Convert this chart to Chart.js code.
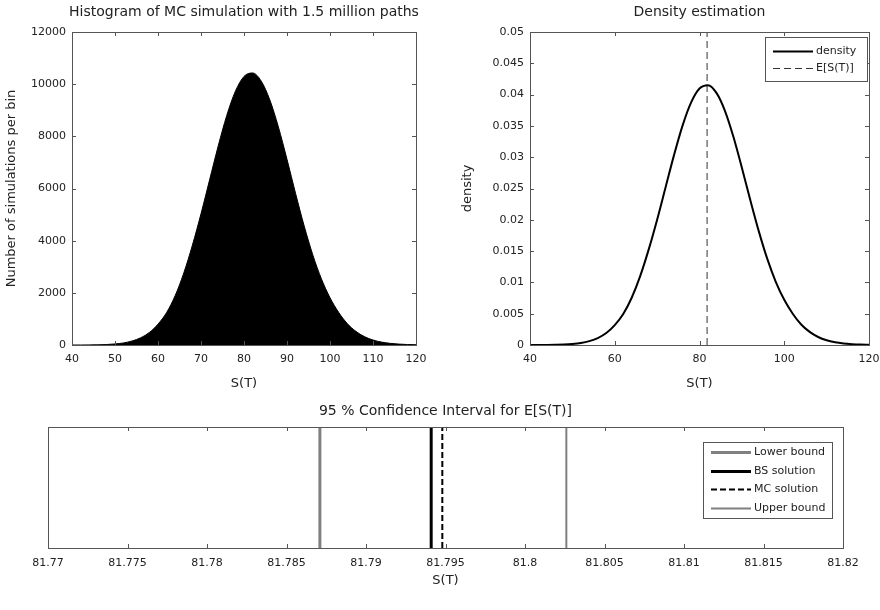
<!DOCTYPE html>
<html>
<head>
<meta charset="utf-8">
<script src="https://cdn.jsdelivr.net/npm/chart.js@4.4.1/dist/chart.umd.min.js"></script>
<style>
  body { margin: 0; background: #fff; width: 880px; height: 610px; position: relative; overflow: hidden; }
  canvas { position: absolute; }
</style>
</head>
<body>
<canvas id="histChart" width="440" height="400" style="left:0;top:0"></canvas>
<canvas id="densityChart" width="440" height="400" style="left:440px;top:0"></canvas>
<canvas id="ciChart" width="880" height="210" style="left:0;top:400px"></canvas>
<script>
// S(T) grid the histogram and the density are read at
const sValues = [40, 42, 44, 46, 48, 50, 52, 54, 56, 58, 60, 62, 64, 66, 68, 70, 72, 74, 76, 78, 80,
                 82, 84, 86, 88, 90, 92, 94, 96, 98, 100, 102, 104, 106, 108, 110, 112, 114, 116, 118, 120];
// simulations per bin
const histCounts = [0, 0, 3, 8, 18, 40, 80, 156, 279, 482, 799, 1244, 1897, 2764, 3827, 5030, 6332, 7630, 8806, 9731, 10296,
                    10430, 10118, 9399, 8359, 7118, 5806, 4560, 3455, 2538, 1814, 1256, 824, 525, 322, 191, 111, 63, 35, 18, 10];
// estimated density
const densityValues = [0, 0, 0.00001, 0.00003, 0.00007, 0.00016, 0.00032, 0.00062, 0.00111, 0.00192, 0.00318, 0.00495,
                       0.00755, 0.011, 0.01523, 0.02002, 0.0252, 0.03037, 0.03505, 0.03873, 0.04098, 0.04151, 0.04027,
                       0.03741, 0.03327, 0.02833, 0.02311, 0.01815, 0.01375, 0.0101, 0.00722, 0.005, 0.00328, 0.00209,
                       0.00128, 0.00076, 0.00044, 0.00025, 0.00014, 0.00007, 0.00004];
const meanST = 81.79;

const histTicksX = [40, 50, 60, 70, 80, 90, 100, 110, 120];
const histTicksY = [0, 2000, 4000, 6000, 8000, 10000, 12000];
const densTicksX = [40, 60, 80, 100, 120];
const densTicksY = [0, 0.005, 0.01, 0.015, 0.02, 0.025, 0.03, 0.035, 0.04, 0.045, 0.05];

// confidence interval
const lowerBound = 81.7871;
const bsSolution = 81.7941;
const mcSolution = 81.7948;
const upperBound = 81.8026;
const ciTicksX = [81.77, 81.775, 81.78, 81.785, 81.79, 81.795, 81.8, 81.805, 81.81, 81.815, 81.82];

const axisColor = '#555';
const fontFamily = '"DejaVu Sans", Verdana, sans-serif';
Chart.defaults.font.family = fontFamily;
Chart.defaults.font.size = 11;
Chart.defaults.color = '#222';

// box around the axes with inward tick marks
const matlabBox = {
  id: 'matlabBox',
  afterDatasetsDraw(chart) {
    const {ctx, chartArea: a} = chart;
    const len = 4;
    ctx.save();
    ctx.strokeStyle = axisColor;
    ctx.lineWidth = 1;
    ctx.setLineDash([]);
    ctx.strokeRect(Math.round(a.left) + 0.5, Math.round(a.top) + 0.5,
                   Math.round(a.right - a.left), Math.round(a.bottom - a.top));
    ctx.beginPath();
    chart.scales.x.ticks.forEach(t => {
      const px = Math.round(chart.scales.x.getPixelForValue(t.value)) + 0.5;
      ctx.moveTo(px, a.bottom); ctx.lineTo(px, a.bottom - len);
      ctx.moveTo(px, a.top); ctx.lineTo(px, a.top + len);
    });
    chart.scales.y.ticks.forEach(t => {
      const py = Math.round(chart.scales.y.getPixelForValue(t.value)) + 0.5;
      ctx.moveTo(a.left, py); ctx.lineTo(a.left + len, py);
      ctx.moveTo(a.right, py); ctx.lineTo(a.right - len, py);
    });
    ctx.stroke();
    ctx.restore();
  }
};

// title centred over the axes rather than the canvas
const axesTitle = {
  id: 'axesTitle',
  afterDraw(chart, args, opts) {
    const {ctx, chartArea: a} = chart;
    ctx.save();
    ctx.fillStyle = '#222';
    ctx.font = '14px ' + fontFamily;
    ctx.textAlign = 'center';
    ctx.textBaseline = 'middle';
    ctx.fillText(opts.text, (a.left + a.right) / 2, opts.y);
    ctx.restore();
  }
};

// framed legend placed inside the axes
const boxLegend = {
  id: 'boxLegend',
  afterDatasetsDraw(chart, args, opts) {
    if (!opts.display) return;
    const ctx = chart.ctx;
    ctx.save();
    ctx.fillStyle = '#fff';
    ctx.fillRect(opts.x, opts.y, opts.w, opts.h);
    ctx.strokeStyle = axisColor;
    ctx.lineWidth = 1;
    ctx.strokeRect(opts.x + 0.5, opts.y + 0.5, opts.w, opts.h);
    chart.data.datasets.forEach((ds, i) => {
      const yy = Math.round(opts.y + opts.rowTop + i * opts.rowH) + 0.5;
      ctx.beginPath();
      ctx.setLineDash(ds.borderDash || []);
      ctx.strokeStyle = ds.borderColor;
      ctx.lineWidth = ds.borderWidth;
      ctx.moveTo(opts.x + 8, yy);
      ctx.lineTo(opts.x + 8 + opts.lineLen, yy);
      ctx.stroke();
      ctx.setLineDash([]);
      ctx.fillStyle = '#222';
      ctx.font = '11px ' + fontFamily;
      ctx.textBaseline = 'middle';
      ctx.fillText(ds.label, opts.x + 11 + opts.lineLen, yy);
    });
    ctx.restore();
  }
};

function fixedTicks(values) {
  return scale => { scale.ticks = values.map(v => ({value: v})); };
}

function xScale(min, max, ticks, height, labelPad, titlePad) {
  return {
    type: 'linear', min: min, max: max,
    afterBuildTicks: fixedTicks(ticks),
    // fixed height, and no extra room reserved for the outer tick labels
    afterFit: s => { s.height = height; s.paddingLeft = 0; s.paddingRight = 0; },
    grid: {display: false, drawTicks: false},
    border: {display: false},
    ticks: {padding: labelPad, maxRotation: 0, autoSkip: false, callback: v => String(v)},
    title: {display: true, text: 'S(T)', font: {size: 13}, padding: {top: 0, bottom: titlePad}}
  };
}

function vLine(label, value, top, color, width, dash) {
  return {
    label: label,
    data: [{x: value, y: 0}, {x: value, y: top}],
    borderColor: color, borderWidth: width, borderDash: dash,
    pointRadius: 0, fill: false
  };
}

// histogram of the simulated terminal prices
new Chart(document.getElementById('histChart'), {
  type: 'line',
  data: {
    datasets: [{
      label: 'MC',
      data: sValues.map((s, i) => ({x: s, y: histCounts[i]})),
      borderColor: '#000', backgroundColor: '#000', borderWidth: 1,
      fill: 'origin', pointRadius: 0, cubicInterpolationMode: 'monotone'
    }]
  },
  options: {
    responsive: false, animation: false, devicePixelRatio: 1,
    layout: {padding: {left: 0, right: 24, top: 32, bottom: 0}},
    plugins: {
      legend: {display: false}, tooltip: {enabled: false},
      axesTitle: {text: 'Histogram of MC simulation with 1.5 million paths', y: 12},
      boxLegend: {display: false}
    },
    scales: {
      x: xScale(40, 120, histTicksX, 55, 8, 9),
      y: {
        min: 0, max: 12000,
        afterBuildTicks: fixedTicks(histTicksY),
        afterFit: s => { s.width = 72; },
        grid: {display: false, drawTicks: false},
        border: {display: false},
        ticks: {padding: 6, callback: v => String(v)},
        title: {display: true, text: 'Number of simulations per bin', font: {size: 13}, padding: {top: 4, bottom: 0}}
      }
    }
  },
  plugins: [matlabBox, boxLegend, axesTitle]
});

// density estimate with the expected value
new Chart(document.getElementById('densityChart'), {
  type: 'line',
  data: {
    datasets: [
      {
        label: 'density',
        data: sValues.map((s, i) => ({x: s, y: densityValues[i]})),
        borderColor: '#000', borderWidth: 2, pointRadius: 0, fill: false,
        cubicInterpolationMode: 'monotone'
      },
      vLine('E[S(T)]', meanST, 0.05, '#333', 1, [7, 4])
    ]
  },
  options: {
    responsive: false, animation: false, devicePixelRatio: 1,
    layout: {padding: {left: 0, right: 11, top: 32, bottom: 0}},
    plugins: {
      legend: {display: false}, tooltip: {enabled: false},
      axesTitle: {text: 'Density estimation', y: 12},
      boxLegend: {display: true, x: 325, y: 37, w: 102, h: 44, rowTop: 14, rowH: 17, lineLen: 40}
    },
    scales: {
      x: xScale(40, 120, densTicksX, 55, 8, 9),
      y: {
        min: 0, max: 0.05,
        afterBuildTicks: fixedTicks(densTicksY),
        afterFit: s => { s.width = 90; },
        grid: {display: false, drawTicks: false},
        border: {display: false},
        ticks: {padding: 6, callback: v => String(v)},
        title: {display: true, text: 'density', font: {size: 13}, padding: {top: 20, bottom: 0}}
      }
    }
  },
  plugins: [matlabBox, boxLegend, axesTitle]
});

// confidence interval against the Black-Scholes value
new Chart(document.getElementById('ciChart'), {
  type: 'line',
  data: {
    datasets: [
      vLine('Lower bound', lowerBound, 1, '#808080', 3, []),
      vLine('BS solution', bsSolution, 1, '#000', 3, []),
      vLine('MC solution', mcSolution, 1, '#000', 2, [6, 3]),
      vLine('Upper bound', upperBound, 1, '#808080', 2, [])
    ]
  },
  options: {
    responsive: false, animation: false, devicePixelRatio: 1,
    layout: {padding: {left: 0, right: 37, top: 27, bottom: 0}},
    plugins: {
      legend: {display: false}, tooltip: {enabled: false},
      axesTitle: {text: '95 % Confidence Interval for E[S(T)]', y: 11},
      boxLegend: {display: true, x: 703, y: 42, w: 129, h: 76, rowTop: 10, rowH: 18.5, lineLen: 40}
    },
    scales: {
      x: xScale(81.77, 81.82, ciTicksX, 62, 9, 22),
      y: {
        min: 0, max: 1,
        afterBuildTicks: fixedTicks([]),
        afterFit: s => { s.width = 48; },
        grid: {display: false, drawTicks: false},
        border: {display: false},
        ticks: {display: false}
      }
    }
  },
  plugins: [matlabBox, boxLegend, axesTitle]
});
</script>
</body>
</html>
